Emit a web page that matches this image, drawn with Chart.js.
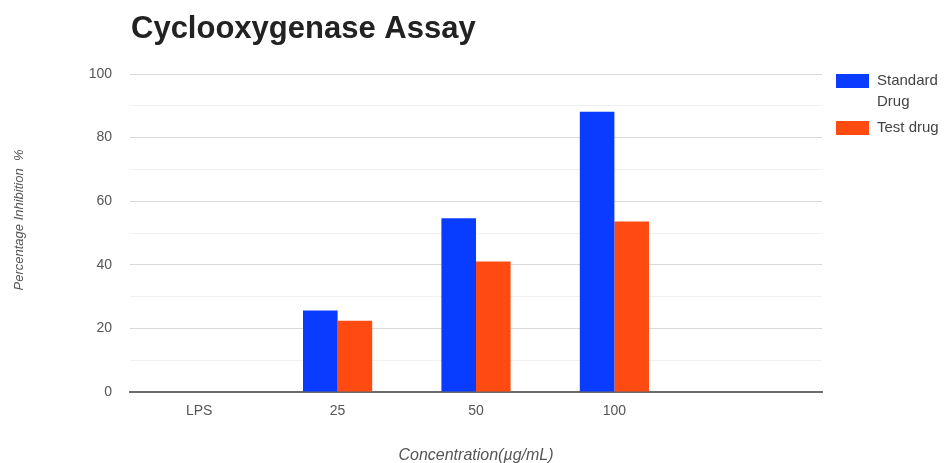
<!DOCTYPE html>
<html>
<head>
<meta charset="utf-8">
<title>Cyclooxygenase Assay</title>
<script src="https://cdn.jsdelivr.net/npm/chart.js@4/dist/chart.umd.min.js"></script>
<style>
  html, body { margin: 0; padding: 0; background: #ffffff; }
  #wrap { width: 945px; height: 463px; position: relative; }
</style>
</head>
<body>
<div id="wrap"><canvas id="chart" width="945" height="463"></canvas></div>
<script>
// Concentration groups (last slot is an empty spacer group)
const categories = ['LPS', '25', '50', '100', ''];
const seriesNames = ['Standard Drug', 'Test drug'];
const standardDrug = [0, 25.6, 54.6, 88.1, 0];
const testDrug = [0, 22.4, 41.0, 53.6, 0];
const yTickLabels = [0, 20, 40, 60, 80, 100];

const chartTitle = 'Cyclooxygenase Assay';
const xTitle = 'Concentration(µg/mL)';
const yTitle = 'Percentage Inhibition  %';

const COLORS = ['#0a3cff', '#ff4a12'];
const FONT = "'Liberation Sans', Arial, sans-serif";

// Title, axis titles and the right-hand legend are painted on the canvas
const decorations = {
  id: 'decorations',
  afterDraw(chart) {
    const ctx = chart.ctx;
    const area = chart.chartArea;
    ctx.save();
    ctx.fillStyle = '#222';
    ctx.font = 'bold 31px ' + FONT;
    ctx.textBaseline = 'alphabetic';
    ctx.textAlign = 'left';
    ctx.fillText(chartTitle, 131, 38);

    // axis titles
    ctx.fillStyle = '#555';
    ctx.textAlign = 'center';
    ctx.textBaseline = 'middle';
    ctx.font = 'italic 16px ' + FONT;
    ctx.fillText(xTitle, (area.left + area.right) / 2, 456);
    ctx.save();
    ctx.translate(19, 220);
    ctx.rotate(-Math.PI / 2);
    ctx.font = 'italic 13px ' + FONT;
    ctx.fillText(yTitle, 0, 0);
    ctx.restore();

    // legend
    ctx.textAlign = 'left';
    ctx.font = '15px ' + FONT;
    const boxX = 836, textX = 877, maxW = 66, lineH = 21;
    let y = 81;
    chart.data.datasets.forEach(ds => {
      ctx.fillStyle = ds.backgroundColor;
      ctx.fillRect(boxX, y - 7, 33, 14);
      const words = ds.label.split(' ');
      const lines = [];
      let cur = '';
      words.forEach(w => {
        const test = cur ? cur + ' ' + w : w;
        if (cur && ctx.measureText(test).width > maxW) { lines.push(cur); cur = w; }
        else cur = test;
      });
      lines.push(cur);
      ctx.fillStyle = '#444';
      lines.forEach((ln, k) => ctx.fillText(ln, textX, y + k * lineH));
      y += lines.length * lineH + 5;
    });
    ctx.restore();
  }
};

new Chart(document.getElementById('chart'), {
  type: 'bar',
  data: {
    labels: categories,
    datasets: [
      { label: seriesNames[0], data: standardDrug, backgroundColor: COLORS[0] },
      { label: seriesNames[1], data: testDrug, backgroundColor: COLORS[1] }
    ]
  },
  options: {
    responsive: false,
    animation: false,
    devicePixelRatio: 1,
    layout: { padding: { top: 74, right: 123, left: 0, bottom: 0 } },
    datasets: { bar: { categoryPercentage: 0.5, barPercentage: 1.0 } },
    plugins: {
      legend: { display: false },
      title: { display: false },
      tooltip: { enabled: false }
    },
    scales: {
      x: {
        grid: { display: false, drawTicks: false },
        border: { display: true, color: '#6b6b6b', width: 2 },
        ticks: { color: '#555', font: { family: FONT, size: 14 }, padding: 11, maxRotation: 0 },
        afterFit(scale) { scale.height = 71; }
      },
      y: {
        min: 0, max: 100,
        border: { display: false },
        grid: {
          drawTicks: false,
          color: c => (c.tick && c.tick.value % 20 === 0) ? '#d9d9d9' : '#f0f0f0',
          lineWidth: 1
        },
        ticks: {
          stepSize: 10,
          padding: 18,
          color: '#555',
          font: { family: FONT, size: 14 },
          callback: v => yTickLabels.includes(v) ? String(v) : ''
        },
        afterFit(scale) { scale.width = 130; }
      }
    }
  },
  plugins: [decorations]
});
</script>
</body>
</html>
